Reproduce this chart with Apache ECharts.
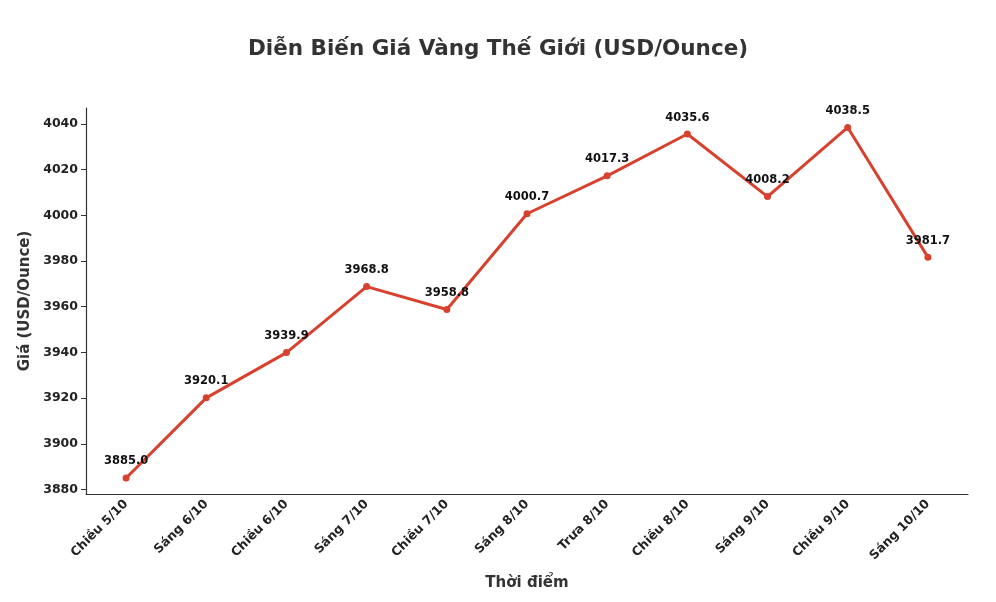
<!DOCTYPE html>
<html><head><meta charset="utf-8">
<script src="https://cdn.jsdelivr.net/npm/echarts@6/dist/echarts.min.js"></script>
<style>html,body{margin:0;background:#fff}#main{width:996px;height:602px}</style>
</head><body><div id="main"></div>
<script>
var categories = ['Chiều 5/10','Sáng 6/10','Chiều 6/10','Sáng 7/10','Chiều 7/10','Sáng 8/10','Trưa 8/10','Chiều 8/10','Sáng 9/10','Chiều 9/10','Sáng 10/10'];
var prices = [3885.0,3920.1,3939.9,3968.8,3958.8,4000.7,4017.3,4035.6,4008.2,4038.5,3981.7];
var yTicks = [3880,3900,3920,3940,3960,3980,4000,4020,4040];
var font = 'DejaVu Sans';
var chart = echarts.init(document.getElementById('main'));
chart.setOption({
    animation: false,
    textStyle: { fontFamily: font },
    title: { text: 'Diễn Biến Giá Vàng Thế Giới (USD/Ounce)', left: 'center', top: 33,
        textStyle: { fontFamily: font, fontSize: 21.5, fontWeight: 'bold', color: '#333' } },
    grid: { left: 86, right: 28, top: 108, bottom: 108 },
    xAxis: {
        type: 'category', data: categories, boundaryGap: true,
        name: 'Thời điểm', nameLocation: 'middle', nameGap: 82,
        nameTextStyle: { fontSize: 15, fontWeight: 'bold', color: '#333' },
        axisLine: { lineStyle: { color: '#333', width: 1.2 } },
        axisTick: { alignWithLabel: true, length: 5, lineStyle: { color: '#333' } },
        axisLabel: { rotate: 45, fontSize: 12.5, fontWeight: 'bold', color: '#222', margin: 8 },
        splitLine: { show: false }
    },
    yAxis: {
        type: 'value', min: 3878, max: 4047,
        name: 'Giá (USD/Ounce)', nameLocation: 'middle', nameGap: 50, nameRotate: 90,
        nameTextStyle: { fontSize: 15, fontWeight: 'bold', color: '#333' },
        axisLine: { show: true, lineStyle: { color: '#333', width: 1.2 } },
        axisTick: { show: true, length: 5, customValues: yTicks, lineStyle: { color: '#333' } },
        axisLabel: { fontSize: 12.5, fontWeight: 'bold', color: '#222', customValues: yTicks,
            formatter: function (v) { return String(v); } },
        splitLine: { show: false }
    },
    series: [{
        type: 'line', data: prices,
        symbol: 'circle', symbolSize: 7,
        lineStyle: { color: '#d9412f', width: 3 },
        itemStyle: { color: '#d9412f' },
        label: { show: true, position: 'top', distance: 7, fontSize: 11.5, fontWeight: 'bold', color: '#111',
            formatter: function (p) { return p.value.toFixed(1); } }
    }]
});
</script></body></html>
